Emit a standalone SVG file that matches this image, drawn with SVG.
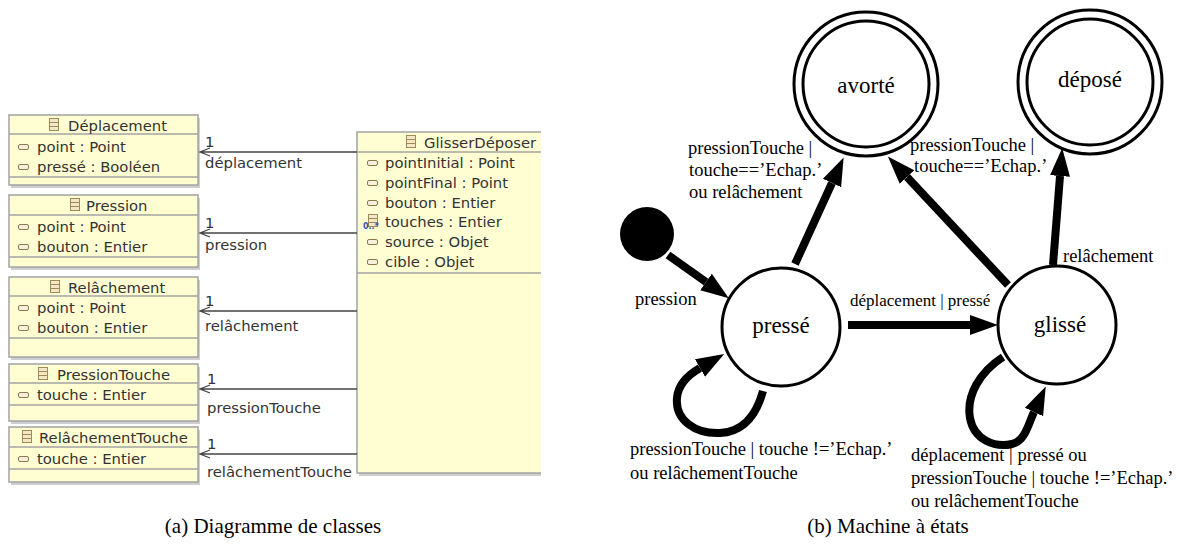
<svg xmlns="http://www.w3.org/2000/svg" xmlns:xlink="http://www.w3.org/1999/xlink" width="1183" height="546" viewBox="0 0 1183 546">
<style>
.box{fill:#fffdd2;stroke:#a3a3a3;stroke-width:1.5}
.shd{fill:#cfcfcf}
.sep{stroke:#a3a3a3;stroke-width:1.5}
.ct{font-family:"DejaVu Sans",sans-serif;font-size:14.8px;fill:#333}
.mult{font-family:"DejaVu Sans",sans-serif;font-size:8px;fill:#2a55b8;font-weight:bold}
.assoc{stroke:#444;stroke-width:1.3;fill:none}
.st{fill:none;stroke:#000;stroke-width:3}
.sn{font-family:"Liberation Serif",serif;font-size:23px;fill:#000;text-anchor:middle}
.sl{font-family:"Liberation Serif",serif;font-size:18.5px;fill:#000}
.edge{stroke:#000;stroke-width:8;fill:none}
.cap{font-family:"Liberation Serif",serif;font-size:21px;fill:#000;text-anchor:middle}
</style>
<defs>
<g id="clsicon"><rect x="0.5" y="0.5" width="9" height="12" fill="#f2e8c8" stroke="#a08a58" stroke-width="1"/><line x1="0.5" y1="4.5" x2="9.5" y2="4.5" stroke="#a08a58" stroke-width="1"/><line x1="0.5" y1="8.5" x2="9.5" y2="8.5" stroke="#a08a58" stroke-width="1"/></g>
<g id="attricon"><rect x="0.5" y="0.5" width="10" height="5" rx="1.5" fill="#f6f0dc" stroke="#8c7a4c" stroke-width="1"/></g>
<marker id="ah" markerUnits="userSpaceOnUse" markerWidth="30" markerHeight="24" viewBox="0 -12 30 24" refX="0" refY="0" orient="auto"><path d="M0,-10 L28,0 L0,10 Z" fill="#000"/></marker>
<clipPath id="clipA"><rect x="0" y="0" width="541" height="546"/></clipPath>
</defs>
<rect x="0" y="0" width="1183" height="546" fill="#fff"/>

<g id="cls-deplacement">
<rect class="shd" x="11" y="118" width="189" height="70"/>
<rect class="box" x="9" y="115" width="189" height="70"/>
<line class="sep" x1="9" y1="134" x2="198" y2="134"/>
<line class="sep" x1="9" y1="177" x2="198" y2="177"/>
<use xlink:href="#clsicon" x="49" y="118"/>
<text class="ct" x="68" y="131">Déplacement</text>
<use xlink:href="#attricon" x="18" y="144"/>
<text class="ct" x="37" y="152">point : Point</text>
<use xlink:href="#attricon" x="18" y="164"/>
<text class="ct" x="37" y="172">pressé : Booléen</text>
</g>

<g id="cls-pression">
<rect class="shd" x="11" y="198" width="189" height="72"/>
<rect class="box" x="9" y="195" width="189" height="72"/>
<line class="sep" x1="9" y1="215" x2="198" y2="215"/>
<line class="sep" x1="9" y1="257" x2="198" y2="257"/>
<use xlink:href="#clsicon" x="70" y="198"/>
<text class="ct" x="86" y="211">Pression</text>
<use xlink:href="#attricon" x="18" y="224"/>
<text class="ct" x="37" y="232">point : Point</text>
<use xlink:href="#attricon" x="18" y="244"/>
<text class="ct" x="37" y="252">bouton : Entier</text>
</g>

<g id="cls-relachement">
<rect class="shd" x="11" y="280" width="189" height="80"/>
<rect class="box" x="9" y="277" width="189" height="80"/>
<line class="sep" x1="9" y1="296" x2="198" y2="296"/>
<line class="sep" x1="9" y1="338" x2="198" y2="338"/>
<use xlink:href="#clsicon" x="50" y="280"/>
<text class="ct" x="68" y="293">Relâchement</text>
<use xlink:href="#attricon" x="18" y="305"/>
<text class="ct" x="37" y="313">point : Point</text>
<use xlink:href="#attricon" x="18" y="325"/>
<text class="ct" x="37" y="333">bouton : Entier</text>
</g>

<g id="cls-pressiontouche">
<rect class="shd" x="11" y="367" width="189" height="57"/>
<rect class="box" x="9" y="364" width="189" height="57"/>
<line class="sep" x1="9" y1="383" x2="198" y2="383"/>
<line class="sep" x1="9" y1="405" x2="198" y2="405"/>
<use xlink:href="#clsicon" x="38" y="367"/>
<text class="ct" x="57" y="380">PressionTouche</text>
<use xlink:href="#attricon" x="18" y="392"/>
<text class="ct" x="37" y="400">touche : Entier</text>
</g>

<g id="cls-relachementtouche">
<rect class="shd" x="11" y="430" width="189" height="55"/>
<rect class="box" x="9" y="427" width="189" height="55"/>
<line class="sep" x1="9" y1="447" x2="198" y2="447"/>
<line class="sep" x1="9" y1="469" x2="198" y2="469"/>
<use xlink:href="#clsicon" x="22" y="430"/>
<text class="ct" x="39" y="443">RelâchementTouche</text>
<use xlink:href="#attricon" x="18" y="456"/>
<text class="ct" x="37" y="464">touche : Entier</text>
</g>

<g id="cls-glisserdeposer" clip-path="url(#clipA)">
<rect class="shd" x="359" y="135" width="229" height="341"/>
<rect class="box" x="357" y="132" width="229" height="341"/>
<line class="sep" x1="357" y1="152" x2="586" y2="152"/>
<line class="sep" x1="357" y1="273" x2="586" y2="273"/>
<use xlink:href="#clsicon" x="406" y="135"/>
<text class="ct" x="424" y="148">GlisserDéposer</text>
<use xlink:href="#attricon" x="367" y="160"/>
<text class="ct" x="385" y="168">pointInitial : Point</text>
<use xlink:href="#attricon" x="367" y="180"/>
<text class="ct" x="385" y="188">pointFinal : Point</text>
<use xlink:href="#attricon" x="367" y="200"/>
<text class="ct" x="385" y="208">bouton : Entier</text>
<use xlink:href="#clsicon" x="368" y="214"/>
<text class="mult" x="363" y="229">0..*</text>
<text class="ct" x="385" y="227">touches : Entier</text>
<use xlink:href="#attricon" x="367" y="239"/>
<text class="ct" x="385" y="247">source : Objet</text>
<use xlink:href="#attricon" x="367" y="259"/>
<text class="ct" x="385" y="267">cible : Objet</text>
</g>

<g id="associations">
<path class="assoc" d="M357 152 H200 M210 148 L200 152 L210 156"/>
<text class="ct" x="205" y="147">1</text>
<text class="ct" x="205" y="168">déplacement</text>
<path class="assoc" d="M357 233 H200 M210 229 L200 233 L210 237"/>
<text class="ct" x="205" y="228">1</text>
<text class="ct" x="205" y="250">pression</text>
<path class="assoc" d="M357 311 H200 M210 307 L200 311 L210 315"/>
<text class="ct" x="205" y="306">1</text>
<text class="ct" x="205" y="331">relâchement</text>
<path class="assoc" d="M357 389 H200 M210 385 L200 389 L210 393"/>
<text class="ct" x="207" y="384">1</text>
<text class="ct" x="207" y="413">pressionTouche</text>
<path class="assoc" d="M357 454 H200 M210 450 L200 454 L210 458"/>
<text class="ct" x="207" y="449">1</text>
<text class="ct" x="207" y="477">relâchementTouche</text>
</g>

<g id="st-initial"><circle cx="647" cy="234" r="27" fill="#000"/></g>
<g id="st-avorte"><circle class="st" cx="866" cy="84" r="72"/><circle class="st" cx="866" cy="84" r="63"/><text class="sn" x="866" y="93">avorté</text></g>
<g id="st-depose"><circle class="st" cx="1090" cy="82" r="72"/><circle class="st" cx="1090" cy="82" r="63"/><text class="sn" x="1090" y="87">déposé</text></g>
<g id="st-presse"><circle class="st" cx="781" cy="327" r="59"/><text class="sn" x="781" y="333">pressé</text></g>
<g id="st-glisse"><circle class="st" cx="1057" cy="325" r="59"/><text class="sn" x="1060" y="332">glissé</text></g>

<g id="transitions">
<path class="edge" d="M668 255 L706 282" marker-end="url(#ah)"/>
<path class="edge" d="M795 264 L832 183" marker-end="url(#ah)"/>
<path class="edge" d="M1008 285 L907 177" marker-end="url(#ah)"/>
<path class="edge" d="M1053 265 L1060 176" marker-end="url(#ah)"/>
<path class="edge" d="M848 325 L970 325" marker-end="url(#ah)"/>
<path class="edge" d="M763 391 C755 420 740 432 720 433 C695 434 675 420 677 398 C678 385 688 375 700 368" marker-end="url(#ah)"/>
<path class="edge" d="M1003 357 C980 372 966 395 970 418 C974 440 995 448 1012 444 C1025 441 1028 425 1034 412" marker-end="url(#ah)"/>
<text class="sl" x="635" y="305">pression</text>
<text class="sl" x="688" y="154">pressionTouche |</text>
<text class="sl" x="689" y="176">touche==’Echap.’</text>
<text class="sl" x="689" y="198">ou relâchement</text>
<text class="sl" x="910" y="151">pressionTouche |</text>
<text class="sl" x="914" y="172">touche==’Echap.’</text>
<text class="sl" x="1063" y="262">relâchement</text>
<text class="sl" x="850" y="306" style="font-size:17px">déplacement | pressé</text>
<text class="sl" x="630" y="455">pressionTouche | touche !=’Echap.’</text>
<text class="sl" x="630" y="479">ou relâchementTouche</text>
<text class="sl" x="911" y="461">déplacement | pressé ou</text>
<text class="sl" x="911" y="484">pressionTouche | touche !=’Echap.’</text>
<text class="sl" x="911" y="507">ou relâchementTouche</text>
</g>

<text class="cap" x="273" y="533">(a) Diagramme de classes</text>
<text class="cap" x="888" y="533">(b) Machine à états</text>
</svg>
